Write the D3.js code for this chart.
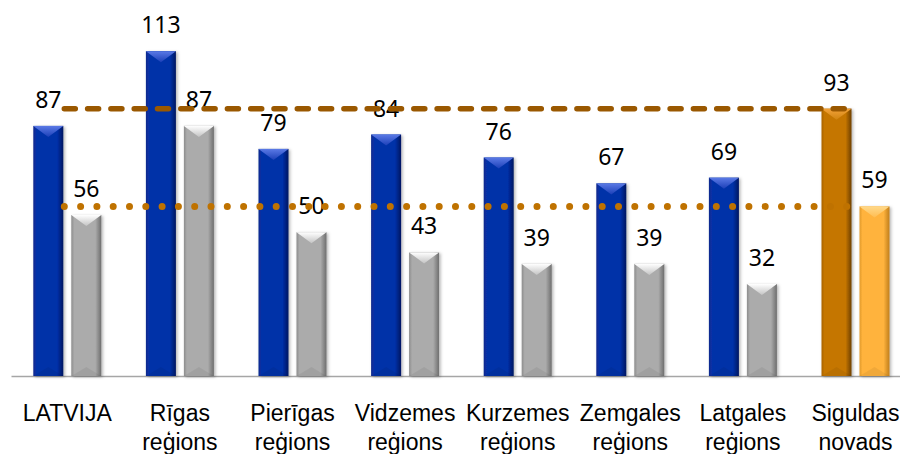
<!DOCTYPE html>
<html>
<head>
<meta charset="utf-8">
<script src="https://cdn.jsdelivr.net/npm/d3@7"></script>
<style>
  body { margin: 0; background: #fff; }
  svg { display: block; font-family: "Noto Sans", sans-serif; }
</style>
</head>
<body>
<div id="chart"></div>
<script>
var categories = [["LATVIJA"], ["Rīgas", "reģions"], ["Pierīgas", "reģions"], ["Vidzemes", "reģions"],
    ["Kurzemes", "reģions"], ["Zemgales", "reģions"], ["Latgales", "reģions"], ["Siguldas", "novads"]];
var seriesA = [87, 113, 79, 84, 76, 67, 69, 93];
var seriesB = [56, 87, 50, 43, 39, 39, 32, 59];
// reference lines: the Siguldas values carried across
var refLines = [
    { value: 93, kind: "dash" },
    { value: 59, kind: "dot" }
];

var width = 900, height = 454;
var baseY = 376;

var svg = d3.select("#chart").append("svg")
    .attr("width", width)
    .attr("height", height);

var defs = svg.append("defs");

var palettes = {
    blue:   { edgeL: "#0b2a8c", mid: "#0630a8", edgeR: "#001660", top: "#5b7ae6", topEnd: "#1c40b8" },
    gray:   { edgeL: "#8c8c8c", mid: "#ababab", edgeR: "#6e6e6e", top: "#ffffff", topEnd: "#c4c4c4" },
    orange: { edgeL: "#a86200", mid: "#c57600", edgeR: "#6e3f00", top: "#f3a23a", topEnd: "#d08410" },
    yellow: { edgeL: "#e09a2a", mid: "#ffb33d", edgeR: "#c07e1a", top: "#ffd98a", topEnd: "#ffbd52" }
};

Object.keys(palettes).forEach(function(k) {
    var p = palettes[k];
    var g = defs.append("linearGradient").attr("id", "body-" + k)
        .attr("x1", "0").attr("x2", "1").attr("y1", "0").attr("y2", "0");
    g.append("stop").attr("offset", "0%").attr("stop-color", p.edgeL);
    g.append("stop").attr("offset", "10%").attr("stop-color", p.mid);
    g.append("stop").attr("offset", "80%").attr("stop-color", p.mid);
    g.append("stop").attr("offset", "100%").attr("stop-color", p.edgeR);

    var t = defs.append("linearGradient").attr("id", "top-" + k)
        .attr("x1", "0").attr("x2", "0").attr("y1", "0").attr("y2", "1");
    t.append("stop").attr("offset", "0%").attr("stop-color", p.top);
    t.append("stop").attr("offset", "100%").attr("stop-color", p.topEnd);
});

var shadow = defs.append("filter").attr("id", "shadow")
    .attr("x", "-30%").attr("y", "-10%").attr("width", "160%").attr("height", "130%");
shadow.append("feDropShadow").attr("dx", 1.5).attr("dy", 1).attr("stdDeviation", 1.5)
    .attr("flood-color", "#000").attr("flood-opacity", 0.3);

var x = d3.scaleBand()
    .domain(d3.range(categories.length))
    .range([11, 11 + 112.6 * categories.length])
    .padding(0);

var xSub = d3.scaleBand()
    .domain([0, 1])
    .range([-34, 34])
    .paddingInner(0.2105);

var y = d3.scaleLinear()
    .domain([0, 120])
    .range([baseY, baseY - 120 * 2.875]);

// axis
var xAxis = d3.axisBottom(x).tickSize(0).tickPadding(0).tickFormat("");
var axisG = svg.append("g")
    .attr("class", "x-axis")
    .attr("transform", "translate(0," + baseY + ")")
    .call(xAxis);
axisG.select(".domain").attr("stroke", "#a6a6a6").attr("stroke-width", 1.5);

axisG.selectAll(".tick").each(function(d) {
    var t = d3.select(this).append("text")
        .attr("fill", "#000")
        .attr("text-anchor", "middle")
        .style("font-size", "23px");
    categories[d].forEach(function(line, i) {
        t.append("tspan").attr("x", 0).attr("y", 45 + i * 29).text(line);
    });
});

var bars = [];
seriesA.forEach(function(v, i) {
    bars.push({ cat: i, sub: 0, value: v, pal: i === categories.length - 1 ? "orange" : "blue" });
    bars.push({ cat: i, sub: 1, value: seriesB[i], pal: i === categories.length - 1 ? "yellow" : "gray" });
});

var bw = xSub.bandwidth();

var barG = svg.selectAll(".bar")
    .data(bars)
    .enter().append("g")
    .attr("class", "bar")
    .attr("transform", function(d) {
        return "translate(" + (x(d.cat) + x.bandwidth() / 2 + xSub(d.sub)) + ",0)";
    });

barG.append("rect")
    .attr("x", 0)
    .attr("y", function(d) { return y(d.value); })
    .attr("width", bw)
    .attr("height", function(d) { return baseY - y(d.value); })
    .attr("fill", function(d) { return "url(#body-" + d.pal + ")"; })
    .attr("filter", "url(#shadow)");

// bevel at the top
barG.append("path")
    .attr("d", function(d) {
        var t = y(d.value);
        return "M0," + t + "L" + bw + "," + t + "L" + (bw / 2) + "," + (t + 11) + "Z";
    })
    .attr("fill", function(d) { return "url(#top-" + d.pal + ")"; });

// faint bevel at the bottom
barG.append("path")
    .attr("d", function(d) {
        return "M0," + baseY + "L" + bw + "," + baseY + "L" + (bw / 2) + "," + (baseY - 9) + "Z";
    })
    .attr("fill", "#000")
    .attr("opacity", 0.06);

// value labels
barG.append("text")
    .attr("x", bw / 2)
    .attr("y", function(d) { return y(d.value) - 18; })
    .attr("text-anchor", "middle")
    .style("font-size", "23px")
    .attr("fill", "#000")
    .text(function(d) { return d.value; });

// reference lines
var x0 = x(0) + x.bandwidth() / 2 - 3;
var x1 = x(categories.length - 1) + x.bandwidth() / 2;

svg.selectAll(".ref-line")
    .data(refLines)
    .enter().append("line")
    .attr("class", "ref-line")
    .attr("x1", x0)
    .attr("x2", x1)
    .attr("y1", function(d) { return y(d.value); })
    .attr("y2", function(d) { return y(d.value); })
    .attr("stroke", function(d) { return d.kind === "dash" ? "#9a5800" : "#bf7200"; })
    .attr("stroke-width", function(d) { return d.kind === "dash" ? 5.5 : 7; })
    .attr("stroke-linecap", "round")
    .attr("stroke-dasharray", function(d) { return d.kind === "dash" ? "11 12.3" : "0 16.3"; });
</script>
</body>
</html>
